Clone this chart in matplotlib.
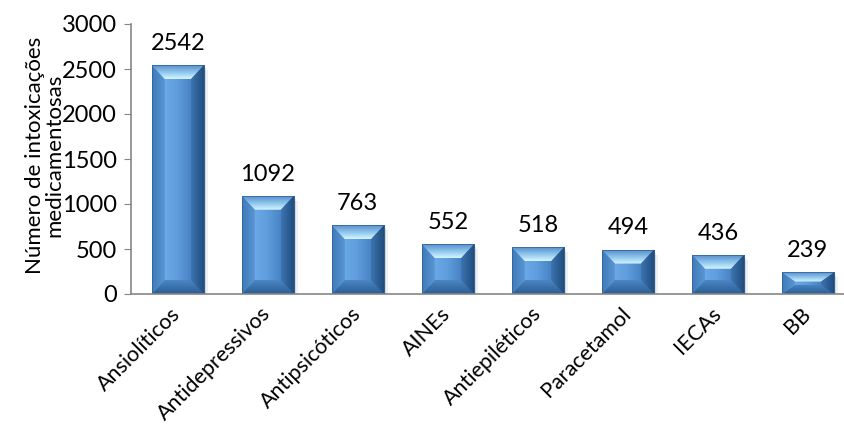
import numpy as np
import matplotlib.pyplot as plt
from matplotlib.colors import LinearSegmentedColormap
from matplotlib.patches import Polygon, Rectangle

plt.rcParams['font.family'] = ['Lato', 'DejaVu Sans']

categorias = ["Ansiolíticos", "Antidepressivos", "Antipsicóticos", "AINEs",
              "Antiepiléticos", "Paracetamol", "IECAs", "BB"]
valores = [2542, 1092, 763, 552, 518, 494, 436, 239]
yticks = [0, 500, 1000, 1500, 2000, 2500, 3000]

fig = plt.figure(figsize=(8.44, 4.32), dpi=100)
ax = fig.add_axes([131 / 844, 138 / 432, 713 / 844, 270 / 432])

x = np.arange(len(categorias))
largura = 0.58
ax.set_xlim(-0.52, 7.4)
ax.set_ylim(0, 3000)

px_x = 1 / 90          # data units per pixel, horizontal
px_y = 3000 / 270      # data units per pixel, vertical


def cmap(*cores):
    return LinearSegmentedColormap.from_list("c", list(cores))


face_cm = cmap("#4f8ed0", "#6ba8e6", "#5e9bdb", "#4783c4", "#2f66a0")
topo_cm = cmap("#5a8fcc", "#8cc4ec", "#d6f6ff")
base_cm = cmap("#4a86c4", "#2c5d93")
esq_cm = cmap("#3f79b8", "#5c98d6")
dir_cm = cmap("#3d74b0", "#1e4a7a")


def preenche(poly, cm, extent, vertical=False, reverso=False):
    g = np.linspace(0, 1, 64)
    if reverso:
        g = g[::-1]
    g = g.reshape(-1, 1) if vertical else g.reshape(1, -1)
    ax.add_patch(poly)
    im = ax.imshow(g, cmap=cm, aspect="auto", extent=extent, origin="lower",
                   zorder=poly.get_zorder(), interpolation="bicubic")
    im.set_clip_path(poly)


for xi, v in zip(x, valores):
    x0, x1 = xi - largura / 2, xi + largura / 2
    bx = 13 * px_x
    by = min(14 * px_y, 0.42 * v)
    # shadow
    ax.add_patch(Rectangle((x0 + 2 * px_x, -3 * px_y), largura, v, color="black",
                           alpha=0.10, lw=0, zorder=1))
    ax.add_patch(Rectangle((x0 + 4 * px_x, -5 * px_y), largura, v, color="black",
                           alpha=0.06, lw=0, zorder=1))
    # front face
    face = Rectangle((x0, 0), largura, v, lw=0, fc="none", zorder=2)
    preenche(face, face_cm, (x0, x1, 0, v))
    # bevels
    topo = Polygon([(x0, v), (x1, v), (x1 - bx, v - by), (x0 + bx, v - by)],
                   closed=True, lw=0, fc="none", zorder=3)
    preenche(topo, topo_cm, (x0, x1, v - by, v), vertical=True, reverso=True)
    base = Polygon([(x0, 0), (x1, 0), (x1 - bx, by), (x0 + bx, by)],
                   closed=True, lw=0, fc="none", zorder=3)
    preenche(base, base_cm, (x0, x1, 0, by), vertical=True, reverso=True)
    esq = Polygon([(x0, 0), (x0 + bx, by), (x0 + bx, v - by), (x0, v)],
                  closed=True, lw=0, fc="none", zorder=3)
    preenche(esq, esq_cm, (x0, x0 + bx, 0, v))
    dir_ = Polygon([(x1, 0), (x1 - bx, by), (x1 - bx, v - by), (x1, v)],
                   closed=True, lw=0, fc="none", zorder=3)
    preenche(dir_, dir_cm, (x1 - bx, x1, 0, v))
    ax.add_patch(Rectangle((x0, 0), largura, v, fill=False, ec="#2e5f94",
                           lw=0.5, zorder=4))
    ax.annotate(str(v), (xi, v), xytext=(0, 8), textcoords="offset points",
                ha="center", va="bottom", fontsize=17, color="black")

ax.set_yticks(yticks)
ax.set_xticks(x)
ax.set_xticklabels(categorias, rotation=45, ha="right", va="center",
                   rotation_mode="anchor", fontsize=15.5)
ax.tick_params(axis="y", labelsize=17, length=5, color="#868686", pad=5)
ax.tick_params(axis="x", length=0, pad=12)

for s in ["top", "right"]:
    ax.spines[s].set_visible(False)
for s in ["left", "bottom"]:
    ax.spines[s].set_color("#868686")
    ax.spines[s].set_linewidth(1.2)
    ax.spines[s].set_zorder(5)

ax.set_ylabel("Número de intoxicações\nmedicamentosas", fontsize=16,
              linespacing=1.0)
ax.yaxis.set_label_coords(-0.093, 0.515)

fig.savefig("out.png", dpi=100)
